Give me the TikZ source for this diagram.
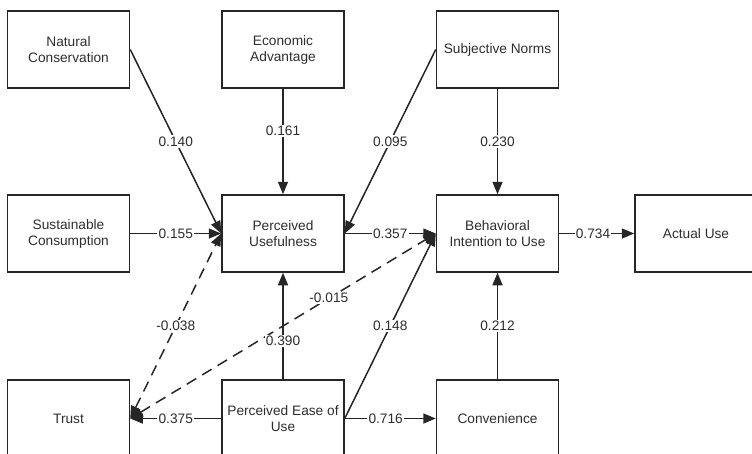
\documentclass[tikz,border=0pt]{standalone}
\usepackage{fontspec}
\setmainfont{Liberation Sans}
\usetikzlibrary{arrows.meta}
\definecolor{ink}{RGB}{38,38,38}
\definecolor{txt}{RGB}{45,45,45}

\begin{document}
\begin{tikzpicture}[x=1pt,y=-1pt,
  box/.style={draw=ink, line width=1.5pt, minimum width=122pt, minimum height=77pt,
    align=center, text=txt, inner sep=0pt, font=\fontsize{13.7}{16}\selectfont},
  tip/.tip={Triangle[length=12.5pt,width=10pt]},
  link/.style={draw=ink, line width=1.5pt, -tip},
  twoway/.style={draw=ink, line width=1.5pt, dash pattern=on 11pt off 7pt, tip-tip},
  lbl/.style={fill=white, text=txt, inner sep=1.2pt, font=\fontsize{13.7}{16}\selectfont}]

\useasboundingbox (0,0) rectangle (752,453);
\clip (0,0) rectangle (752,453);

% constructs
\node[box] (nc)  at (68.5,49.5)  {Natural\\Conservation};
\node[box] (ea)  at (283,49.5)   {Economic\\Advantage};
\node[box] (sn)  at (497.5,49.5) {Subjective Norms};
\node[box] (sc)  at (68.5,233.5) {Sustainable\\Consumption};
\node[box] (pu)  at (283,233.5)  {Perceived\\Usefulness};
\node[box] (biu) at (497.5,233.5) {Behavioral\\Intention to Use};
\node[box] (au)  at (696,233.5)  {Actual Use};
\node[box] (tr)  at (68.5,418.5) {Trust};
\node[box] (peu) at (283,418.5)  {Perceived Ease of\\Use};
\node[box] (cv)  at (497.5,418.5) {Convenience};

% correlations with trust
\draw[twoway] (tr.east) -- node[lbl, pos=0.5] {-0.038} (pu.west);
\draw[twoway] (tr.east) -- node[lbl, pos=0.65] {-0.015} (biu.west);

% structural paths
\draw[link] (nc.east) -- node[lbl] {0.140} (pu.west);
\draw[link] (ea.south) -- node[lbl, pos=0.4] {0.161} (pu.north);
\draw[link] (sn.west) -- node[lbl] {0.095} (pu.east);
\draw[link] (sn.south) -- node[lbl] {0.230} (biu.north);
\draw[link] (sc.east) -- node[lbl] {0.155} (pu.west);
\draw[link] (pu.east) -- node[lbl] {0.357} (biu.west);
\draw[link] (biu.east) -- node[lbl, pos=0.45] {0.734} (au.west);
\draw[link] (peu.north) -- node[lbl, pos=0.36] {0.390} (pu.south);
\draw[link] (peu.east) -- node[lbl] {0.148} (biu.west);
\draw[link] (peu.west) -- node[lbl] {0.375} (tr.east);
\draw[link] (peu.east) -- node[lbl, pos=0.45] {0.716} (cv.west);
\draw[link] (cv.north) -- node[lbl] {0.212} (biu.south);
\end{tikzpicture}
\end{document}
